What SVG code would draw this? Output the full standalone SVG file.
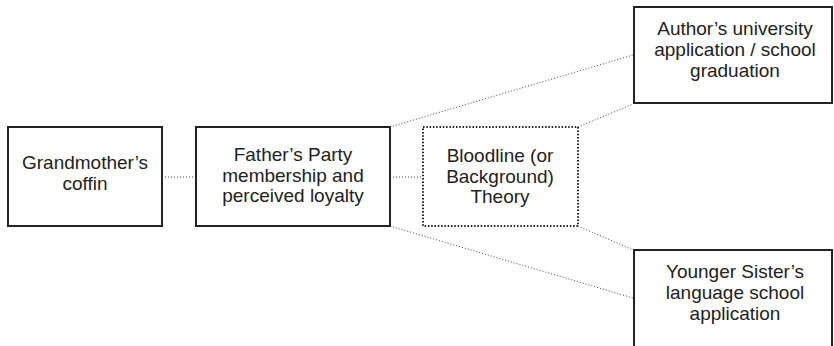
<svg xmlns="http://www.w3.org/2000/svg" width="834" height="346" viewBox="0 0 834 346">
  <style>
    .box { fill: #fff; stroke: #222; stroke-width: 2; }
    .box-dotted { fill: #fff; stroke: #222; stroke-width: 2; stroke-dasharray: 1.5 1.8; }
    .link { fill: none; stroke: #444; stroke-width: 1; stroke-dasharray: 1 2; }
    text { font-family: "Liberation Sans", Arial, sans-serif; font-size: 19px; fill: #222; text-anchor: middle; }
  </style>
  <rect width="834" height="346" fill="#fff"/>

  <g id="connectors">
    <line class="link" x1="162" y1="177" x2="196" y2="177"/>
    <line class="link" x1="390" y1="177" x2="423" y2="177"/>
    <line class="link" x1="390" y1="127" x2="633" y2="55"/>
    <line class="link" x1="390" y1="226" x2="633" y2="298"/>
    <line class="link" x1="578" y1="127" x2="633" y2="104"/>
    <line class="link" x1="578" y1="226" x2="633" y2="250"/>
  </g>

  <g id="grandmother-coffin">
    <rect class="box" x="8" y="127" width="154" height="99"/>
    <text x="85" y="169">Grandmother’s</text>
    <text x="85" y="190">coffin</text>
  </g>

  <g id="father-party">
    <rect class="box" x="196" y="127" width="194" height="99"/>
    <text x="293" y="161">Father’s Party</text>
    <text x="293" y="181.5">membership and</text>
    <text x="293" y="202">perceived loyalty</text>
  </g>

  <g id="bloodline-theory">
    <rect class="box-dotted" x="423" y="127" width="155" height="99"/>
    <text x="500" y="161.5">Bloodline (or</text>
    <text x="500" y="182.5">Background)</text>
    <text x="500" y="203">Theory</text>
  </g>

  <g id="author-application">
    <rect class="box" x="634" y="7" width="198" height="96"/>
    <text x="735" y="35">Author’s university</text>
    <text x="735" y="56">application / school</text>
    <text x="735" y="77">graduation</text>
  </g>

  <g id="sister-application">
    <rect class="box" x="634" y="250" width="198" height="98"/>
    <text x="735" y="278">Younger Sister’s</text>
    <text x="735" y="299">language school</text>
    <text x="735" y="320">application</text>
  </g>
</svg>
